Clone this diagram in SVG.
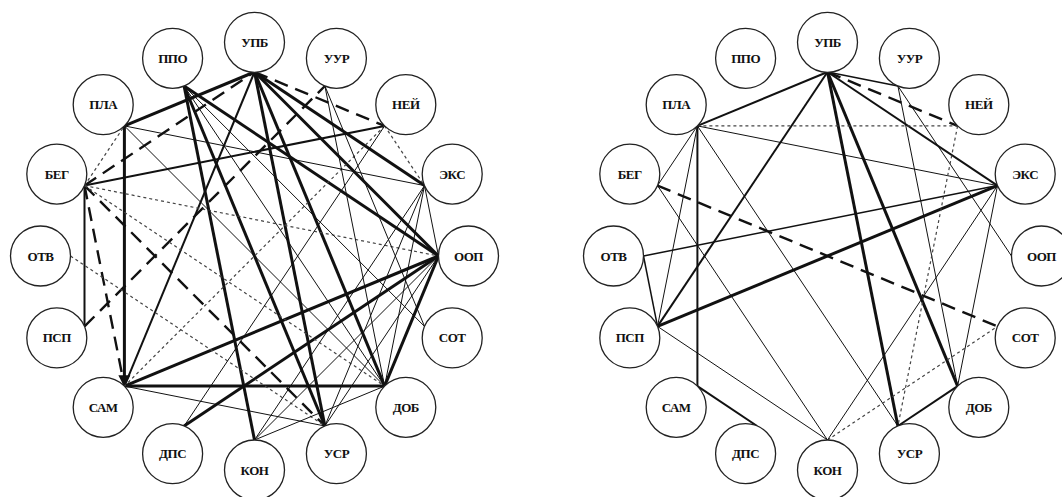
<svg xmlns="http://www.w3.org/2000/svg" width="1062" height="497" viewBox="0 0 1062 497">
<style>
.e{stroke:#111;fill:none;stroke-linecap:butt}
.k{stroke-width:3}
.m{stroke-width:2}
.s{stroke-width:1.5}
.t{stroke-width:1}
.d{stroke-width:1.2;stroke-dasharray:3 3;stroke:#444}
.h{stroke-width:2.4;stroke-dasharray:14 8}
.n circle{fill:#fff;stroke:#222;stroke-width:1.3}
.n text{font-family:"Liberation Serif","Times New Roman",serif;font-weight:bold;font-size:13px;letter-spacing:-0.5px;fill:#111;text-anchor:middle;dominant-baseline:central}
</style>
<defs>
<marker id="arr" viewBox="0 0 10 10" refX="9" refY="5" markerWidth="4" markerHeight="5" orient="auto" markerUnits="strokeWidth"><path d="M0,0 L10,5 L0,10 z" fill="#111"/></marker>
</defs>
<g id="connectors">
<g id="left-edges">
<line class="e k" x1="124.4" y1="125.9" x2="254.5" y2="72"/>
<line class="e k" x1="124.4" y1="125.9" x2="124.4" y2="386.1" marker-end="url(#arr)"/>
<line class="e k" x1="124.4" y1="386.1" x2="384.6" y2="386.1"/>
<line class="e k" x1="254.5" y1="72" x2="384.6" y2="386.1"/>
<line class="e k" x1="254.5" y1="72" x2="424.5" y2="185.6"/>
<line class="e k" x1="254.5" y1="72" x2="324.9" y2="426"/>
<line class="e k" x1="254.5" y1="72" x2="438.5" y2="256"/>
<line class="e k" x1="184.1" y1="86" x2="254.5" y2="440"/>
<line class="e k" x1="184.1" y1="86" x2="324.9" y2="426"/>
<line class="e k" x1="184.1" y1="86" x2="438.5" y2="256"/>
<line class="e k" x1="438.5" y1="256" x2="124.4" y2="386.1"/>
<line class="e k" x1="438.5" y1="256" x2="184.1" y2="426"/>
<line class="e k" x1="438.5" y1="256" x2="384.6" y2="386.1"/>
<line class="e m" x1="84.5" y1="185.6" x2="84.5" y2="326.4"/>
<line class="e m" x1="84.5" y1="185.6" x2="384.6" y2="125.9"/>
<line class="e m" x1="254.5" y1="72" x2="124.4" y2="386.1"/>
<line class="e h" x1="254.5" y1="72" x2="384.6" y2="125.9"/>
<line class="e h" x1="84.5" y1="326.4" x2="324.9" y2="86"/>
<line class="e h" x1="84.5" y1="185.6" x2="124.4" y2="386.1"/>
<line class="e h" x1="84.5" y1="185.6" x2="324.9" y2="426"/>
<line class="e h" x1="84.5" y1="185.6" x2="254.5" y2="72"/>
<line class="e d" x1="70.5" y1="256" x2="324.9" y2="426"/>
<line class="e d" x1="84.5" y1="185.6" x2="124.4" y2="125.9"/>
<line class="e d" x1="84.5" y1="185.6" x2="438.5" y2="256"/>
<line class="e d" x1="84.5" y1="185.6" x2="384.6" y2="386.1"/>
<line class="e d" x1="384.6" y1="125.9" x2="424.5" y2="185.6"/>
<line class="e d" x1="384.6" y1="125.9" x2="124.4" y2="386.1"/>
<line class="e t" x1="124.4" y1="125.9" x2="424.5" y2="185.6"/>
<line class="e t" x1="124.4" y1="125.9" x2="384.6" y2="386.1"/>
<line class="e t" x1="424.5" y1="185.6" x2="324.9" y2="426"/>
<line class="e t" x1="424.5" y1="185.6" x2="384.6" y2="386.1"/>
<line class="e t" x1="424.5" y1="185.6" x2="438.5" y2="256"/>
<line class="e t" x1="424.5" y1="185.6" x2="254.5" y2="440"/>
<line class="e t" x1="384.6" y1="125.9" x2="184.1" y2="426"/>
<line class="e t" x1="254.5" y1="440" x2="384.6" y2="386.1"/>
<line class="e t" x1="254.5" y1="440" x2="438.5" y2="256"/>
<line class="e t" x1="324.9" y1="426" x2="438.5" y2="256"/>
<line class="e t" x1="124.4" y1="386.1" x2="324.9" y2="426"/>
<line class="e t" x1="324.9" y1="86" x2="424.5" y2="326.4"/>
<line class="e t" x1="324.9" y1="86" x2="384.6" y2="386.1"/>
<line class="e t" x1="184.1" y1="86" x2="424.5" y2="326.4"/>
<line class="e t" x1="184.1" y1="86" x2="384.6" y2="386.1"/>
</g>
<g id="right-edges">
<line class="e m" x1="827.5" y1="72" x2="697.4" y2="125.9"/>
<line class="e m" x1="827.5" y1="72" x2="657.5" y2="326.4"/>
<line class="e k" x1="827.5" y1="72" x2="897.9" y2="426"/>
<line class="e k" x1="827.5" y1="72" x2="957.6" y2="386.1"/>
<line class="e m" x1="827.5" y1="72" x2="997.5" y2="185.6"/>
<line class="e s" x1="827.5" y1="72" x2="897.9" y2="86"/>
<line class="e h" x1="827.5" y1="72" x2="957.6" y2="125.9"/>
<line class="e d" x1="697.4" y1="125.9" x2="957.6" y2="125.9"/>
<line class="e t" x1="697.4" y1="125.9" x2="997.5" y2="185.6"/>
<line class="e m" x1="697.4" y1="125.9" x2="697.4" y2="386.1"/>
<line class="e t" x1="697.4" y1="125.9" x2="657.5" y2="185.6"/>
<line class="e t" x1="697.4" y1="125.9" x2="657.5" y2="326.4"/>
<line class="e t" x1="697.4" y1="125.9" x2="897.9" y2="426"/>
<line class="e h" x1="657.5" y1="185.6" x2="997.5" y2="326.4"/>
<line class="e t" x1="657.5" y1="185.6" x2="827.5" y2="440"/>
<line class="e s" x1="643.5" y1="256" x2="997.5" y2="185.6"/>
<line class="e s" x1="643.5" y1="256" x2="657.5" y2="326.4"/>
<line class="e k" x1="657.5" y1="326.4" x2="997.5" y2="185.6"/>
<line class="e t" x1="657.5" y1="326.4" x2="827.5" y2="440"/>
<line class="e m" x1="697.4" y1="386.1" x2="757.1" y2="426"/>
<line class="e t" x1="897.9" y1="86" x2="957.6" y2="386.1"/>
<line class="e t" x1="897.9" y1="86" x2="1011.5" y2="256"/>
<line class="e d" x1="957.6" y1="125.9" x2="897.9" y2="426"/>
<line class="e m" x1="897.9" y1="426" x2="957.6" y2="386.1"/>
<line class="e t" x1="957.6" y1="386.1" x2="997.5" y2="185.6"/>
<line class="e t" x1="827.5" y1="440" x2="997.5" y2="185.6"/>
<line class="e d" x1="827.5" y1="440" x2="997.5" y2="326.4"/>
</g>
</g>
<g id="left-graph">
<g id="L-UPB" class="n"><circle cx="254.5" cy="42.3" r="30"/><text x="254.5" y="42.3">УПБ</text></g>
<g id="L-UUR" class="n"><circle cx="336.4" cy="58.3" r="30"/><text x="336.4" y="58.3">УУР</text></g>
<g id="L-NEI" class="n"><circle cx="405.8" cy="104.7" r="30"/><text x="405.8" y="104.7">НЕЙ</text></g>
<g id="L-EKS" class="n"><circle cx="452.2" cy="174.1" r="30"/><text x="452.2" y="174.1">ЭКС</text></g>
<g id="L-OOP" class="n"><circle cx="468.5" cy="256" r="30"/><text x="468.5" y="256">ООП</text></g>
<g id="L-SOT" class="n"><circle cx="452.2" cy="337.9" r="30"/><text x="452.2" y="337.9">СОТ</text></g>
<g id="L-DOB" class="n"><circle cx="405.8" cy="407.3" r="30"/><text x="405.8" y="407.3">ДОБ</text></g>
<g id="L-USR" class="n"><circle cx="336.4" cy="453.7" r="30"/><text x="336.4" y="453.7">УСР</text></g>
<g id="L-KON" class="n"><circle cx="254.5" cy="470" r="30"/><text x="254.5" y="470">КОН</text></g>
<g id="L-DPS" class="n"><circle cx="172.6" cy="453.7" r="30"/><text x="172.6" y="453.7">ДПС</text></g>
<g id="L-SAM" class="n"><circle cx="103.2" cy="407.3" r="30"/><text x="103.2" y="407.3">САМ</text></g>
<g id="L-PSP" class="n"><circle cx="56.8" cy="337.9" r="30"/><text x="56.8" y="337.9">ПСП</text></g>
<g id="L-OTV" class="n"><circle cx="40.5" cy="256" r="30"/><text x="40.5" y="256">ОТВ</text></g>
<g id="L-BEG" class="n"><circle cx="56.8" cy="174.1" r="30"/><text x="56.8" y="174.1">БЕГ</text></g>
<g id="L-PLA" class="n"><circle cx="103.2" cy="104.7" r="30"/><text x="103.2" y="104.7">ПЛА</text></g>
<g id="L-PPO" class="n"><circle cx="172.6" cy="58.3" r="30"/><text x="172.6" y="58.3">ППО</text></g>
</g>
<g id="right-graph">
<g id="R-UPB" class="n"><circle cx="827.5" cy="42.3" r="30"/><text x="827.5" y="42.3">УПБ</text></g>
<g id="R-UUR" class="n"><circle cx="909.4" cy="58.3" r="30"/><text x="909.4" y="58.3">УУР</text></g>
<g id="R-NEI" class="n"><circle cx="978.8" cy="104.7" r="30"/><text x="978.8" y="104.7">НЕЙ</text></g>
<g id="R-EKS" class="n"><circle cx="1025.2" cy="174.1" r="30"/><text x="1025.2" y="174.1">ЭКС</text></g>
<g id="R-OOP" class="n"><circle cx="1041.5" cy="256" r="30"/><text x="1041.5" y="256">ООП</text></g>
<g id="R-SOT" class="n"><circle cx="1025.2" cy="337.9" r="30"/><text x="1025.2" y="337.9">СОТ</text></g>
<g id="R-DOB" class="n"><circle cx="978.8" cy="407.3" r="30"/><text x="978.8" y="407.3">ДОБ</text></g>
<g id="R-USR" class="n"><circle cx="909.4" cy="453.7" r="30"/><text x="909.4" y="453.7">УСР</text></g>
<g id="R-KON" class="n"><circle cx="827.5" cy="470" r="30"/><text x="827.5" y="470">КОН</text></g>
<g id="R-DPS" class="n"><circle cx="745.6" cy="453.7" r="30"/><text x="745.6" y="453.7">ДПС</text></g>
<g id="R-SAM" class="n"><circle cx="676.2" cy="407.3" r="30"/><text x="676.2" y="407.3">САМ</text></g>
<g id="R-PSP" class="n"><circle cx="629.8" cy="337.9" r="30"/><text x="629.8" y="337.9">ПСП</text></g>
<g id="R-OTV" class="n"><circle cx="613.5" cy="256" r="30"/><text x="613.5" y="256">ОТВ</text></g>
<g id="R-BEG" class="n"><circle cx="629.8" cy="174.1" r="30"/><text x="629.8" y="174.1">БЕГ</text></g>
<g id="R-PLA" class="n"><circle cx="676.2" cy="104.7" r="30"/><text x="676.2" y="104.7">ПЛА</text></g>
<g id="R-PPO" class="n"><circle cx="745.6" cy="58.3" r="30"/><text x="745.6" y="58.3">ППО</text></g>
</g>
</svg>
